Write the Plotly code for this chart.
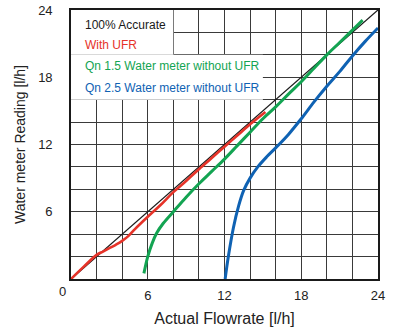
import plotly.graph_objects as go

# ---- data ----
accurate_x = [0, 24]
accurate_y = [0, 24]

ufr_x = [0, 1, 2, 2.5, 3, 3.5, 4, 4.5, 5, 6, 7, 8, 9, 10, 11, 12, 13, 14, 15.2]
ufr_y = [0, 1.1, 2.15, 2.45, 2.75, 3.05, 3.4, 3.85, 4.45, 5.55, 6.6, 7.75, 8.75, 9.8, 10.8, 11.8, 12.8, 13.8, 14.9]

qn15_x = [5.7, 6.0, 6.35, 6.7, 7.2, 8, 9, 10, 11, 12, 13, 14, 15, 16, 17, 18, 19, 20, 21, 22, 22.8]
qn15_y = [0.5, 2.0, 3.2, 4.1, 4.95, 6.0, 7.3, 8.5, 9.6, 10.7, 11.9, 13.1, 14.3, 15.35, 16.5, 17.6, 18.8, 20.0, 21.1, 22.2, 23.1]

qn25_x = [12.05, 12.3, 12.7, 13.1, 13.5, 14.0, 14.6, 15.3, 16, 17, 18, 19, 20, 21, 22, 23, 24]
qn25_y = [0, 2.0, 4.6, 6.5, 7.9, 9.0, 10.0, 10.9, 11.7, 12.9, 14.3, 15.8, 17.2, 18.5, 19.9, 21.2, 22.4]

grid_vals = [0, 2, 4, 6, 8, 10, 12, 14, 16, 18, 20, 22, 24]
x_tick_labels = ["", "", "", "6", "", "", "12", "", "", "18", "", "", "24"]
y_tick_labels = ["", "", "", "6", "", "", "12", "", "", "18", "", "", "24"]

legend_labels = ["100% Accurate", "With UFR", "Qn 1.5 Water meter without UFR", "Qn 2.5 Water meter without UFR"]
legend_y = [22.66, 20.87, 18.99, 17.03]

BLACK = "#1a1a1a"
RED = "#e63329"
GREEN = "#13a452"
BLUE = "#0f62b3"
colors = [BLACK, RED, GREEN, BLUE]

FONT = "Liberation Sans, Arial, Helvetica, sans-serif"

fig = go.Figure()
fig.add_trace(go.Scatter(x=accurate_x, y=accurate_y, mode="lines", line=dict(color=BLACK, width=1.3)))
fig.add_trace(go.Scatter(x=ufr_x, y=ufr_y, mode="lines", line=dict(color=RED, width=2.6, shape="spline")))
fig.add_trace(go.Scatter(x=qn15_x, y=qn15_y, mode="lines", line=dict(color=GREEN, width=3, shape="spline")))
fig.add_trace(go.Scatter(x=qn25_x, y=qn25_y, mode="lines", line=dict(color=BLUE, width=3, shape="spline")))

# white legend backdrop (stepped)
fig.add_shape(type="rect", x0=0, x1=8, y0=20, y1=24, fillcolor="white", line_width=0, layer="between")
fig.add_shape(type="rect", x0=0, x1=15, y0=16, y1=20, fillcolor="white", line_width=0, layer="between")

for lab, yy, col in zip(legend_labels, legend_y, colors):
    fig.add_annotation(x=0.95, y=yy, xref="x", yref="y", text=lab, showarrow=False,
                       xanchor="left", yanchor="middle", font=dict(family=FONT, size=12, color=col))

fig.add_annotation(x=-0.028, y=-0.045, xref="paper", yref="paper", text="0", showarrow=False,
                   xanchor="center", yanchor="middle", font=dict(family=FONT, size=13, color="#222"))

axis_common = dict(
    range=[0, 24], showgrid=True, gridcolor="#3a3a3a", gridwidth=1.2,
    zeroline=False, showline=True, linecolor=BLACK, linewidth=1.6, mirror=True,
    ticks="", tickfont=dict(family=FONT, size=13, color="#222"),
    tickmode="array", tickvals=grid_vals, ticklabeloverflow="allow",
)

fig.update_xaxes(**axis_common, ticktext=x_tick_labels, ticklabelstandoff=4,
                 title=dict(text="Actual Flowrate [l/h]", font=dict(family=FONT, size=16, color="#222"), standoff=10))
fig.update_yaxes(**axis_common, ticktext=y_tick_labels, ticklabelstandoff=14,
                 title=dict(text="Water meter Reading [l/h]", font=dict(family=FONT, size=14, color="#222"), standoff=9))

fig.update_layout(
    width=395, height=331,
    margin=dict(l=71, r=17, t=10, b=52, autoexpand=False),
    paper_bgcolor="white", plot_bgcolor="white",
    showlegend=False,
    font=dict(family=FONT),
)

# remove the default 8px page margin so the figure fills the window exactly
fig.write_html("out.html", config={"displayModeBar": False},
               post_script="document.body.style.margin='0';")
